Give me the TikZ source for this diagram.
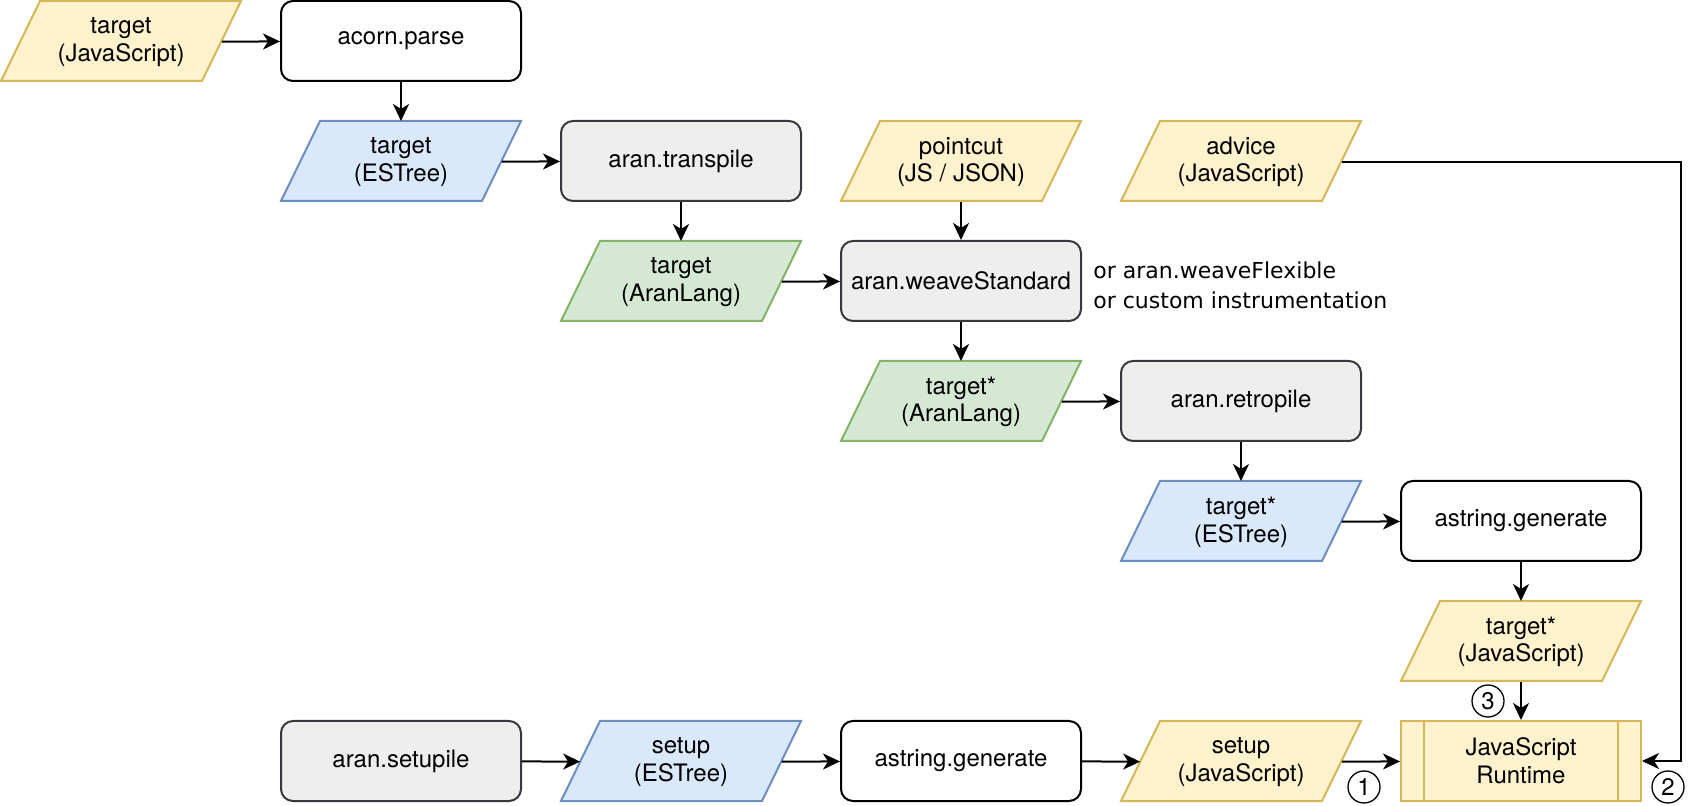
\documentclass[tikz,border=0pt]{standalone}
\usepackage{fontspec}
\setmainfont{TeX Gyre Heros}
\newfontfamily\notefont{DejaVu Sans}
\usetikzlibrary{arrows.meta,calc}

\definecolor{yfill}{HTML}{FFF2CC}\definecolor{ydraw}{HTML}{D6B656}
\definecolor{bfill}{HTML}{DAE8FC}\definecolor{bdraw}{HTML}{6C8EBF}
\definecolor{gfill}{HTML}{D5E8D4}\definecolor{gdraw}{HTML}{82B366}
\definecolor{kfill}{HTML}{EEEEEE}\definecolor{kdraw}{HTML}{36393D}

\tikzset{
  every node/.style={font=\fontsize{12}{13.8}\selectfont},
  box/.style={draw, rounded corners=6pt, minimum width=120pt, minimum height=40pt,
    line width=1pt, inner sep=0pt, align=center},
  whitebox/.style={box, fill=white, draw=black},
  graybox/.style={box, fill=kfill, draw=kdraw},
  datatext/.style={inner sep=0pt, minimum width=100.5pt, minimum height=40pt, align=center},
  jsdata/.style={fill=yfill, draw=ydraw, line width=1pt},
  esdata/.style={fill=bfill, draw=bdraw, line width=1pt},
  arandata/.style={fill=gfill, draw=gdraw, line width=1pt},
  flow/.style={line width=1pt, -{Stealth[length=8.5pt,width=8pt,inset=2.5pt]}},
  badge/.style={circle, draw, line width=0.65pt, minimum size=16pt, inner sep=0pt,
    font=\fontsize{12}{12}\selectfont},
}

% data item: name, centre x, centre y, style, text
\newcommand\datanode[5]{%
  \draw[#4] (#2-81,#3-40) -- (#2+120,#3-40) -- (#2+81,#3+40) -- (#2-120,#3+40) -- cycle;
  \node[datatext] (#1) at (#2,#3+1) {#5};}

\begin{document}
\begin{tikzpicture}[x=0.5pt, y=-0.5pt]
\useasboundingbox (0,0) rectangle (1698,806);

% target pipeline
\datanode{tgtJS}{121}{41}{jsdata}{target\\(JavaScript)}
\node[whitebox] (acorn) at (401,41) {acorn.parse};
\datanode{tgtES}{401}{161}{esdata}{target\\(ESTree)}
\node[graybox] (transpile) at (681,161) {aran.transpile};
\datanode{pointcut}{961}{161}{jsdata}{pointcut\\(JS / JSON)}
\datanode{advice}{1241}{161}{jsdata}{advice\\(JavaScript)}
\datanode{tgtAran}{681}{281}{arandata}{target\\(AranLang)}
\node[graybox] (weave) at (961,281) {aran.weaveStandard};
\node[anchor=west, align=left, inner sep=0pt,
  font=\notefont\fontsize{11}{15}\selectfont] (note) at (1093,285)
  {or aran.weaveFlexible\\or custom instrumentation};
\datanode{tgtStarAran}{961}{401}{arandata}{target*\\(AranLang)}
\node[graybox] (retropile) at (1241,401) {aran.retropile};
\datanode{tgtStarES}{1241}{521}{esdata}{target*\\(ESTree)}
\node[whitebox] (genA) at (1521,521) {astring.generate};
\datanode{tgtStarJS}{1521}{641}{jsdata}{target*\\(JavaScript)}

% setup pipeline
\node[graybox] (setupile) at (401,761) {aran.setupile};
\datanode{setupES}{681}{761}{esdata}{setup\\(ESTree)}
\node[whitebox] (genB) at (961,761) {astring.generate};
\datanode{setupJS}{1241}{761}{jsdata}{setup\\(JavaScript)}

% runtime
\node[box, sharp corners, fill=yfill, draw=ydraw] (runtime) at (1521,761) {JavaScript\\Runtime};
\draw[ydraw, line width=1pt] ([xshift=12pt]runtime.north west) -- ([xshift=12pt]runtime.south west);
\draw[ydraw, line width=1pt] ([xshift=-12pt]runtime.north east) -- ([xshift=-12pt]runtime.south east);

% connectors
\draw[flow] (tgtJS) -- (acorn);
\draw[flow] (acorn) -- (tgtES.north |- 0,121);
\draw[flow] (tgtES) -- (transpile);
\draw[flow] (transpile) -- (tgtAran.north |- 0,241);
\draw[flow] (tgtAran) -- (weave);
\draw[flow] (pointcut) -- (weave);
\draw[flow] (weave) -- (tgtStarAran.north |- 0,361);
\draw[flow] (tgtStarAran) -- (retropile);
\draw[flow] (retropile) -- (tgtStarES.north |- 0,481);
\draw[flow] (tgtStarES) -- (genA);
\draw[flow] (genA) -- (tgtStarJS.north |- 0,601);
\draw[flow] (tgtStarJS) -- (runtime);
\draw[flow] (setupile) -- (setupES);
\draw[flow] (setupES) -- (genB);
\draw[flow] (genB) -- (setupJS);
\draw[flow] (setupJS) -- (runtime);
\coordinate (adviceturn) at (1681,761);
\draw[flow] (advice.east) -| (adviceturn) -- (runtime.east);

% order markers
\node[badge] (m1) at (1364,787) {1};
\node[badge] (m2) at (1668,787) {2};
\node[badge] (m3) at (1488,701) {3};
\end{tikzpicture}
\end{document}
